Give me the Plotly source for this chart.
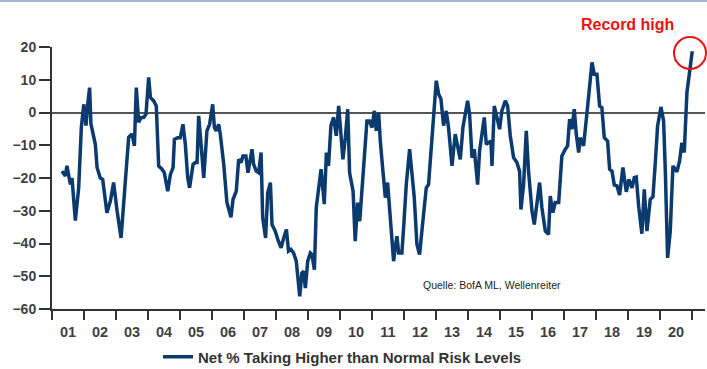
import plotly.graph_objects as go

start_year = 2001
series_name = "Net % Taking Higher than Normal Risk Levels"
year_labels = ["01", "02", "03", "04", "05", "06", "07", "08", "09", "10",
               "11", "12", "13", "14", "15", "16", "17", "18", "19", "20"]
y_ticks = [20, 10, 0, -10, -20, -30, -40, -50, -60]

# months elapsed since January 2001
months = [
    3.75, 5, 5.6, 6.25, 6.9, 7.5, 8.75, 10, 11, 11.9, 12.75, 13.4, 14.1, 14.6,
    16.25, 16.9, 18.1, 19, 20.6, 21.9, 23.1, 24.4, 25.9, 27.5, 28.75, 30, 30.9,
    31.6, 32.5, 33.4, 34.4, 35.25, 36.25, 36.9, 38.1, 39.1, 40, 41.25, 42.1,
    43.4, 44.4, 45.4, 45.9, 47.1, 48.1, 49.1, 50, 50.9, 51.6, 52.9, 53.75, 54.4,
    55, 55.9, 56.9, 58.1, 59.1, 60.25,
    60.9, 61.6, 62.5, 63.1, 64.4, 65.6, 67.1, 67.9, 69.1, 70, 70.9, 71.6, 72.7,
    73.5, 74.1, 75, 75.6, 76.6, 77.5, 78.4, 79, 80.1, 80.9, 81.9, 82.5, 83.7,
    84.7, 85.9, 86.9, 87.9, 88.7, 89.6, 90.6, 91.6, 92.9, 93.7, 94.4, 95, 95.9,
    96.9, 97.5, 98.4, 99.1, 100, 100.9, 102.1, 102.9, 103.7, 104.6, 105.6,
    106.6, 107.5, 108.4, 109.1, 110, 110.9, 111.6, 112.9, 113.7, 114.6, 115.4,
    116.2, 117.1, 118.1, 119.1, 120, 120.9,
    121.6, 122.5, 123.1, 124.1, 125, 125.85, 126.6, 127.5, 128.1, 128.7,
    129.35, 130, 131.2, 131.85, 132.85, 134.1, 135, 135.85, 136.85, 137.85,
    138.7, 139.6, 140.35, 141.2, 142.2, 143.1, 144.1, 145, 145.85, 146.85,
    147.85, 148.7, 150, 151.2, 152.1, 153.1, 154.1, 155, 155.85, 156.6, 157.5,
    158.35, 159.6, 160.35, 161.2, 162.1, 162.85, 163.7, 164.6, 165, 165.85,
    166.85, 167.85, 168.7, 170, 170.85, 171.85, 173.1, 174.35, 175.35, 175.85,
    176.85, 177.85, 178.7, 180, 180.85,
    181.85, 182.85, 183.7, 185, 186.2, 186.85, 187.85, 188.7, 190, 191.2,
    192.5, 193.35, 194.1, 195, 195.85, 196.6, 197.5, 198.1, 199.35, 200.35,
    201.2, 202.5, 203.35, 204.35, 205.35, 206.2, 207.1, 208.35, 209.1, 210,
    210.85, 211.85, 212.85, 214.1, 215.35, 216.35, 217.5, 218.35, 219.1, 220,
    221.2, 222.1, 223.1, 224.35, 225.35, 226.2, 227.1, 228.35, 229.35, 230,
    230.85, 231.85, 232.85, 234.35, 235.35, 236.2, 237.1, 238.1, 239.1, 240.1,
]

values = [
    -17.9, -19.4, -16.3, -20, -22, -20, -33, -23, -4.6, 2.5, -4, 2.5, 7.6, -3.5,
    -9.7, -16.8, -20, -20.4, -30.6, -27, -21.4, -30, -38.3, -21, -7.6, -6.6, -10.2,
    7.6, -3, -1.5, -1.5, -0.5, 10.7, 4.6, 3.6, 2, -16.3, -17.3, -18.4,
    -24, -18.9, -16.8, -8.2, -7.7, -7.7, -3.6, -9.7, -20, -23, -15.8, -15.3, -15.3,
    -1, -9.7, -20, -5.6, -3.6, 2.5,
    -4.6, -5.6, -3.6, -6.6, -15.8, -27.5, -32, -26.5, -24, -14.3, -15.3, -13.3, -13.3,
    -18.4, -14.8, -11.2, -15.8, -17.9, -18.4, -12.2, -32, -38.3, -24.5, -21.4, -34.2, -36.2,
    -38.8, -41.3, -38.3, -35.7, -42.3, -41.8, -42.9, -45.4, -56.1, -49, -48.5, -53.6, -45.4,
    -42.9, -43.4, -48, -29, -24, -17.3, -28, -12.2, -16.3, -4, -1.5,
    -7.1, 2, -7.6, -14.3, -7.6, 1, -18.4, -24, -39.3, -27.5, -33.2,
    -23.5, -13.8, -2.6, -2.6, -4.6, 0.5,
    -5.6, 0, -8.7, -17.9, -26, -21.4, -29, -38.3, -45.4, -41.3,
    -37.8, -42.9, -42.9, -35.2, -22, -11.2, -17.9, -26, -40.3, -43.4,
    -36.2, -28, -23, -22, -9.7, -1.5, 9.7, 5.6, 4.1, -4,
    0.5, -4.6, -16.3, -6.6, -9.7, -14.3, -4.6, -0.5, 3.6, -0.5, -13.8,
    -11.2, -22, -11.7, -5.6, -1.5, -9.7, -9.2, -8.7, -16.3, 2,
    -1.5, -5.1, 0.5, 3.6, 2, -7.1, -13.8, -15.3, -17.9, -29.6,
    -22, -5.6, -17.9, -30.1, -34.2,
    -28, -21.4, -29, -36.2, -37.2, -25.5, -30.6, -27.5, -27.5, -13.3,
    -11.2, -10.2, -2, -5.1, 1, -6.6, -12.2, -7.7, -10.2, -3.1,
    4.6, 15.3, 11.7, 11.7, 2, 1.5, -7.7, -8.7, -17.3, -17.9,
    -22.1, -22.4, -25.2, -16.8, -24.2, -20.4, -23, -19.9, -19.7, -28.6,
    -37, -23.5, -36.2, -26.5, -25.8, -15.8, -4.1, 1.7, -2.6, -17.9,
    -44.4, -36.2, -16.3, -18.1, -14.8, -9.2, -12.2, 6.1, 11.7, 18.7,
]

x_vals = [start_year + m / 12 for m in months]
n_years = len(year_labels)
label_pos = [start_year + i + 0.5 for i in range(n_years)]

# pixel layout of the plot area
W, H = 707, 369
L, R, T, B = 52, 2, 47, 60
pw, ph = W - L - R, H - T - B
x_end = start_year + pw / 32.0


def px(xp):
    return (xp - L) / pw


def py(yp):
    return (H - B - yp) / ph


axis_col = "#333333"
font_family = "Liberation Sans, Arial, sans-serif"

fig = go.Figure()
fig.add_trace(go.Scatter(
    x=x_vals, y=values, mode="lines", name=series_name,
    line=dict(color="#0b3a6e", width=3.5),
    showlegend=True,
))

fig.update_layout(
    width=W, height=H,
    margin=dict(l=L, r=R, t=T, b=B, autoexpand=False),
    plot_bgcolor="white", paper_bgcolor="white",
    showlegend=True,
    legend=dict(
        orientation="h", x=px(158), xanchor="left", y=py(357), yanchor="middle",
        font=dict(family=font_family, size=15, color="#333333", weight=700),
        bgcolor="rgba(0,0,0,0)",
    ),
    xaxis=dict(
        range=[start_year, x_end],
        tickmode="array", tickvals=label_pos, ticktext=year_labels,
        ticks="outside", ticklen=9, tickcolor="rgba(0,0,0,0)",
        tickfont=dict(family=font_family, size=14.5, color="#3f3f3f", weight=700),
        minor=dict(tick0=start_year, dtick=1, ticks="outside", ticklen=9,
                   tickwidth=2, tickcolor=axis_col, showgrid=False),
        showline=True, linecolor=axis_col, linewidth=2,
        showgrid=False, zeroline=False,
    ),
    yaxis=dict(
        range=[y_ticks[-1], y_ticks[0]],
        tickmode="array", tickvals=y_ticks,
        ticks="outside", ticklen=11, tickwidth=2, tickcolor=axis_col,
        tickfont=dict(family=font_family, size=14, color="#3f3f3f", weight=700),
        showline=True, linecolor=axis_col, linewidth=2,
        showgrid=False,
        zeroline=True, zerolinecolor="#555555", zerolinewidth=1.5,
    ),
    shapes=[
        dict(type="rect", xref="paper", yref="paper",
             x0=px(0), x1=px(W), y0=py(2), y1=py(0),
             fillcolor="#a3b5d0", line=dict(width=0), layer="above"),
        dict(type="circle", xref="paper", yref="paper",
             x0=px(674), x1=px(706), y0=py(69), y1=py(37),
             line=dict(color="#ee1111", width=2), fillcolor="rgba(0,0,0,0)"),
    ],
    annotations=[
        dict(text="Record high", xref="paper", yref="paper",
             x=px(627), y=py(24), xanchor="center", yanchor="middle",
             showarrow=False,
             font=dict(family=font_family, size=16, color="#ee1111", weight=700)),
        dict(text="Quelle: BofA ML, Wellenreiter", xref="paper", yref="paper",
             x=px(421), y=py(285), xanchor="left", yanchor="middle",
             showarrow=False,
             font=dict(family=font_family, size=10.5, color="#222222")),
    ],
)

fig.write_html("out.html")
